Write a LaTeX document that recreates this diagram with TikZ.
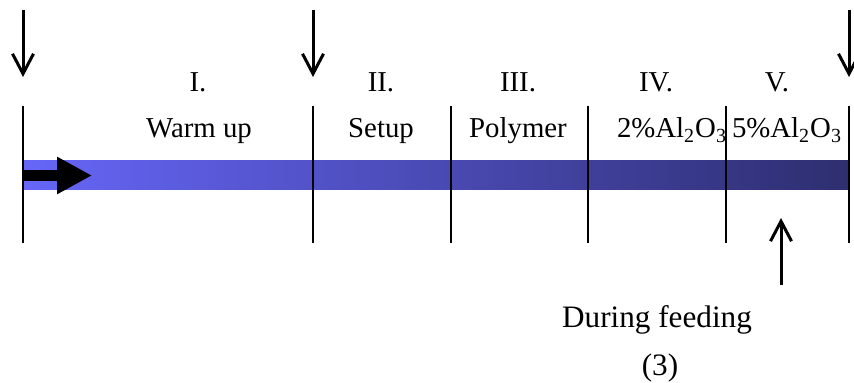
\documentclass[tikz,border=0pt]{standalone}
\usepackage{fontspec}
\setmainfont{Liberation Serif}
\usetikzlibrary{arrows.meta}
\tikzset{>=stealth}
\definecolor{barleft}{RGB}{102,102,248}
\definecolor{barright}{RGB}{46,46,112}

\begin{document}
\begin{tikzpicture}[x=0.5pt,y=-0.5pt,
    divider/.style={line width=1pt},
    droparrow/.style={line width=1.5pt,-{Straight Barb[length=10pt,width=10.5pt]}},
    flowarrow/.style={line width=5.5pt,-{Triangle[length=17.5pt,width=17.5pt]}},
    lbl/.style={font=\fontsize{14.4}{16}\selectfont,inner sep=0pt,anchor=base}]
    \useasboundingbox (0,0) rectangle (854,383);
    % time bar
    \shade[left color=barleft,right color=barright] (23,161) rectangle (849,190);
    \coordinate (start) at (23,175.5);
    \coordinate (tip) at (92,175.5);
    \draw[flowarrow] (start) -- (tip);
    % stage borders
    \foreach \x/\n in {23/a,313/b,451/c,588/d,726/e,849/f} {
      \coordinate (top\n) at (\x,106);
      \coordinate (bot\n) at (\x,243);
      \draw[divider] (top\n) -- (bot\n);
    }
    % sampling points
    \foreach \x/\n in {23/a,313/b,849/f} {
      \coordinate (from\n) at (\x,10);
      \coordinate (to\n) at (\x,77);
      \draw[droparrow] (from\n) -- (to\n);
    }
    \coordinate (feedfrom) at (781,285);
    \coordinate (feedto) at (781,218);
    \draw[droparrow] (feedfrom) -- (feedto);
    % stage labels
    \node[lbl] (num1) at (198,92) {I.};
    \node[lbl] (name1) at (199,138) {Warm up};
    \node[lbl] (num2) at (381,92) {II.};
    \node[lbl] (name2) at (381,138) {Setup};
    \node[lbl] (num3) at (518,92) {III.};
    \node[lbl] (name3) at (518,138) {Polymer};
    \node[lbl] (num4) at (656,92) {IV.};
    \node[lbl] (name4) at (672,138) {2\%Al\textsubscript{2}O\textsubscript{3}};
    \node[lbl] (num5) at (777,92) {V.};
    \node[lbl] (name5) at (787,138) {5\%Al\textsubscript{2}O\textsubscript{3}};
    \node[lbl,font=\fontsize{15.6}{18}\selectfont] (feed) at (657,328) {During feeding};
    \node[lbl,font=\fontsize{15.6}{18}\selectfont] (feednum) at (660,376) {(3)};
\end{tikzpicture}
\end{document}
